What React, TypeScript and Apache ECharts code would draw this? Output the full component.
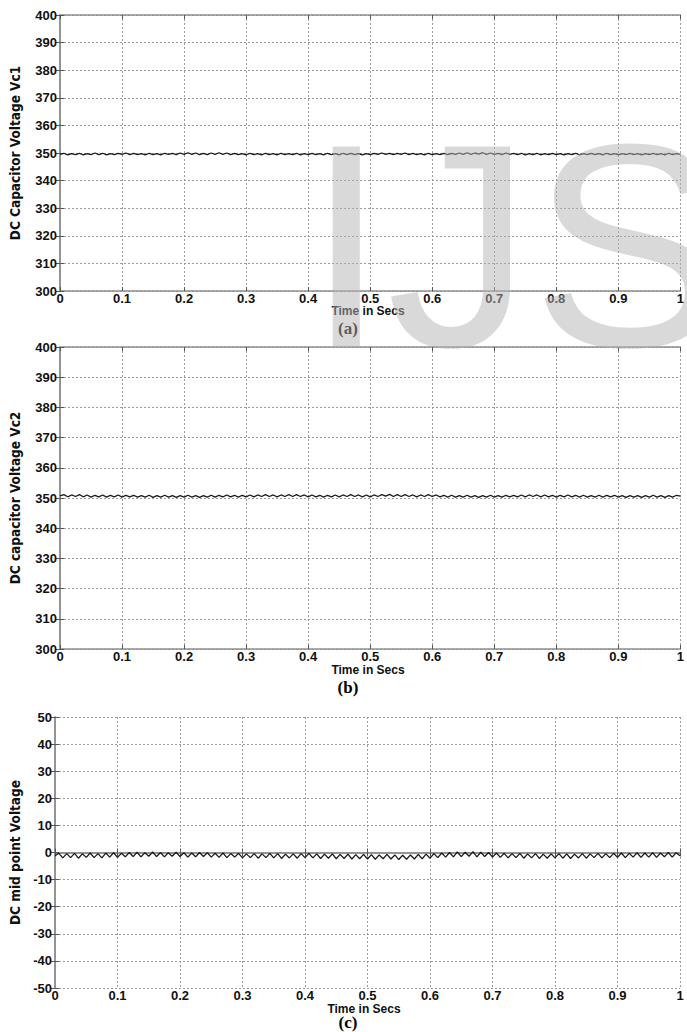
import React, { useEffect, useRef } from "react";
import * as echarts from "echarts";

const timeStep = 0.00625;
const xTicks = ["0", "0.1", "0.2", "0.3", "0.4", "0.5", "0.6", "0.7", "0.8", "0.9", "1"];

const vc1 = [
  349.5, 349.9, 349.3, 349.8, 349.4, 349.9, 349.3, 349.8, 349.4, 350.0,
  349.4, 349.9, 349.3, 349.8, 349.4, 349.9, 349.5, 350.0, 349.4, 349.9,
  349.4, 349.8, 349.3, 349.9, 349.4, 349.8, 349.3, 349.9, 349.5, 349.9,
  349.4, 350.0, 349.5, 350.1, 349.5, 350.0, 349.4, 349.9, 349.4, 350.0,
  349.5, 350.1, 349.5, 350.0, 349.4, 349.9, 349.4, 349.8, 349.3, 349.9,
  349.4, 349.8, 349.3, 349.9, 349.4, 349.8, 349.3, 349.9, 349.4, 349.8,
  349.4, 349.9, 349.3, 349.8, 349.4, 349.9, 349.4, 349.8, 349.3, 349.9,
  349.4, 349.8, 349.3, 349.9, 349.4, 349.9, 349.4, 349.8, 349.3, 349.8,
  349.4, 349.9, 349.5, 350.0, 349.5, 349.9, 349.4, 349.9, 349.5, 350.0,
  349.4, 349.9, 349.4, 349.8, 349.3, 349.9, 349.4, 349.8, 349.4, 349.9,
  349.4, 349.9, 349.5, 350.0, 349.5, 350.1, 349.5, 350.0, 349.6, 350.1,
  349.5, 350.0, 349.5, 349.9, 349.4, 350.0, 349.5, 349.9, 349.4, 349.9,
  349.3, 349.8, 349.4, 349.9, 349.3, 349.8, 349.4, 349.9, 349.4, 349.8,
  349.3, 349.8, 349.4, 349.9, 349.3, 349.8, 349.4, 349.9, 349.4, 349.8,
  349.3, 349.9, 349.4, 349.8, 349.3, 349.8, 349.4, 349.9, 349.4, 349.8,
  349.3, 349.8, 349.4, 349.9, 349.4, 349.8, 349.3, 349.9, 349.4, 349.8,
  349.5,
];

const vc2 = [
  350.7, 351.1, 350.4, 351.0, 350.5, 351.1, 350.4, 351.0, 350.3, 350.9,
  350.4, 351.0, 350.3, 350.9, 350.4, 351.0, 350.3, 350.9, 350.4, 350.9,
  350.3, 350.8, 350.3, 350.9, 350.2, 350.8, 350.3, 350.9, 350.3, 350.8,
  350.2, 350.8, 350.3, 350.9, 350.3, 350.8, 350.2, 350.8, 350.3, 350.9,
  350.3, 350.9, 350.4, 351.0, 350.4, 350.9, 350.3, 350.9, 350.4, 351.0,
  350.4, 351.0, 350.5, 351.1, 350.5, 351.0, 350.4, 351.0, 350.5, 351.1,
  350.5, 351.1, 350.5, 351.0, 350.4, 351.0, 350.4, 350.9, 350.3, 350.9,
  350.4, 351.0, 350.4, 351.0, 350.5, 351.1, 350.5, 351.0, 350.4, 351.0,
  350.4, 351.0, 350.5, 351.1, 350.6, 351.2, 350.5, 351.1, 350.5, 351.1,
  350.5, 351.0, 350.4, 351.0, 350.5, 351.1, 350.5, 351.0, 350.4, 350.9,
  350.3, 350.9, 350.3, 350.8, 350.3, 350.9, 350.3, 350.8, 350.2, 350.8,
  350.3, 350.9, 350.3, 350.8, 350.3, 350.9, 350.4, 350.9, 350.4, 351.0,
  350.4, 351.0, 350.5, 351.0, 350.4, 351.0, 350.4, 350.9, 350.3, 350.9,
  350.4, 351.0, 350.4, 350.9, 350.3, 350.9, 350.3, 350.8, 350.3, 350.9,
  350.3, 350.9, 350.4, 350.9, 350.3, 350.8, 350.2, 350.8, 350.3, 350.8,
  350.2, 350.8, 350.3, 350.9, 350.3, 350.8, 350.2, 350.8, 350.3, 350.9,
  350.6,
];

const vmid = [
  -1.2, -0.3, -2.0, -0.4, -1.9, -0.3, -2.1, -0.5, -1.8, -0.2,
  -1.9, -0.4, -2.0, -0.2, -1.7, -0.1, -1.8, -0.3, -1.6, 0.0,
  -1.5, 0.1, -1.6, -0.1, -1.4, 0.2, -1.5, 0.0, -1.6, -0.1,
  -1.4, 0.1, -1.5, -0.1, -1.7, -0.2, -1.6, 0.0, -1.5, -0.1,
  -1.7, -0.3, -1.8, -0.2, -1.9, -0.4, -1.7, -0.3, -2.0, -0.5,
  -1.9, -0.4, -2.1, -0.5, -1.9, -0.3, -2.0, -0.4, -2.2, -0.6,
  -2.0, -0.5, -2.1, -0.4, -1.9, -0.3, -2.0, -0.5, -2.2, -0.6,
  -2.1, -0.5, -2.3, -0.7, -2.2, -0.6, -2.4, -0.8, -2.3, -0.7,
  -2.4, -0.8, -2.5, -0.9, -2.3, -0.7, -2.4, -0.9, -2.6, -1.0,
  -2.5, -0.9, -2.4, -0.7, -2.3, -0.6, -2.1, -0.4, -1.9, -0.2,
  -1.7, 0.0, -1.6, 0.2, -1.5, 0.1, -1.4, 0.3, -1.6, 0.1,
  -1.5, 0.0, -1.7, -0.2, -1.8, -0.3, -2.0, -0.4, -1.9, -0.3,
  -2.1, -0.5, -2.0, -0.4, -2.2, -0.6, -2.1, -0.5, -2.0, -0.4,
  -2.1, -0.5, -2.2, -0.6, -2.0, -0.4, -2.1, -0.5, -1.9, -0.3,
  -2.0, -0.4, -1.9, -0.3, -1.8, -0.2, -1.9, -0.3, -1.7, -0.1,
  -1.8, -0.2, -1.7, -0.1, -1.8, -0.2, -1.6, 0.0, -1.7, -0.1,
  -1.2,
];

const panelTitles = ["DC Capacitor Voltage Vc1", "DC capacitor Voltage Vc2", "DC mid point Voltage"];
const panelTags = ["(a)", "(b)", "(c)"];
const xTitle = "Time in Secs";
const yRanges = [
  [300, 400],
  [300, 400],
  [-50, 50],
];
const watermark = "IJS";

const SANS = "'Liberation Sans', Arial, Helvetica, sans-serif";
const NARROW = "'Liberation Sans Narrow', 'DejaVu Sans Condensed', 'Liberation Sans', sans-serif";
const SERIF = "'Liberation Serif', 'Times New Roman', serif";

export default function App() {
  const ref = useRef<HTMLDivElement>(null);

  useEffect(() => {
    if (!ref.current) return;
    const chart = echarts.init(ref.current, null, { renderer: "svg" });

    const grids = [
      { left: 53, top: 15, width: 630, height: 276 },
      { left: 53, top: 347, width: 630, height: 302 },
      { left: 48, top: 717, width: 632, height: 271 },
    ];
    const seriesData = [vc1, vc2, vmid];

    const axisColor = "#8f8f8f";
    const gridLine = { show: true, lineStyle: { color: "#9a9a9a", type: [2, 2] as any, width: 1 } };
    const labelStyle = { color: "#111", fontFamily: SANS, fontWeight: "bold" as const, fontSize: 13 };

    const xAxes: any[] = [];
    const yAxes: any[] = [];
    const series: any[] = [];

    grids.forEach((g, i) => {
      xAxes.push({
        gridIndex: i,
        type: "value",
        min: 0,
        max: 1,
        interval: 0.1,
        position: "bottom",
        axisLine: { show: true, lineStyle: { color: axisColor, width: 1.5 } },
        axisTick: { show: true, inside: true, length: 4, lineStyle: { color: "#555" } },
        splitLine: gridLine,
        axisLabel: {
          ...labelStyle,
          margin: 1,
          formatter: (v: number) => xTicks[Math.round(v * 10)] ?? "",
        },
      });
      xAxes.push({
        gridIndex: i,
        type: "value",
        min: 0,
        max: 1,
        interval: 0.1,
        position: "top",
        axisLine: { show: true, lineStyle: { color: axisColor, width: 1.5 } },
        axisTick: { show: true, inside: true, length: 4, lineStyle: { color: "#555" } },
        splitLine: { show: false },
        axisLabel: { show: false },
      });
      const [ymin, ymax] = yRanges[i];
      yAxes.push({
        gridIndex: i,
        type: "value",
        min: ymin,
        max: ymax,
        interval: 10,
        position: "left",
        name: panelTitles[i],
        nameLocation: "middle",
        nameRotate: 90,
        nameGap: i === 2 ? 33 : 38,
        nameTextStyle: { color: "#111", fontFamily: NARROW, fontWeight: "bold", fontSize: 13.5 },
        axisLine: { show: true, lineStyle: { color: axisColor, width: 1.5 } },
        axisTick: { show: true, inside: true, length: 4, lineStyle: { color: "#555" } },
        splitLine: gridLine,
        axisLabel: { ...labelStyle, margin: 3 },
      });
      yAxes.push({
        gridIndex: i,
        type: "value",
        min: ymin,
        max: ymax,
        interval: 10,
        position: "right",
        axisLine: { show: true, lineStyle: { color: axisColor, width: 1.5 } },
        axisTick: { show: true, inside: true, length: 4, lineStyle: { color: "#555" } },
        splitLine: { show: false },
        axisLabel: { show: false },
      });
      series.push({
        type: "line",
        xAxisIndex: i * 2,
        yAxisIndex: i * 2,
        data: seriesData[i].map((v, k) => [k * timeStep, v]),
        showSymbol: false,
        lineStyle: { color: "#1a1a1a", width: 1.3 },
        z: 3,
      });
    });

    const xTitleY = [311, 670, 1009];
    const tagY = [328, 687, 1022];
    const graphics: any[] = [];
    grids.forEach((g, i) => {
      graphics.push({
        type: "text",
        x: g.left + g.width / 2,
        y: xTitleY[i],
        style: {
          text: xTitle,
          fill: "#111",
          font: `bold 12px ${SANS}`,
          align: "center",
          verticalAlign: "middle",
        },
      });
      graphics.push({
        type: "text",
        x: 348,
        y: tagY[i],
        style: {
          text: panelTags[i],
          fill: "#000",
          font: `bold 17px ${SERIF}`,
          align: "center",
          verticalAlign: "middle",
        },
      });
    });
    graphics.push({
      type: "text",
      x: 306,
      y: 245,
      z: 100,
      style: {
        text: watermark,
        fill: "#b4b4b4",
        opacity: 0.5,
        font: `290px ${SANS}`,
        align: "left",
        verticalAlign: "middle",
      },
    });

    chart.setOption({
      animation: false,
      backgroundColor: "#fff",
      grid: grids.map((g) => ({ ...g, containLabel: false })),
      xAxis: xAxes,
      yAxis: yAxes,
      series,
      graphic: graphics,
    });

    return () => chart.dispose();
  }, []);

  return (
    <div
      ref={ref}
      style={{ position: "absolute", left: 0, top: 0, width: 687, height: 1032, background: "#fff" }}
    />
  );
}
